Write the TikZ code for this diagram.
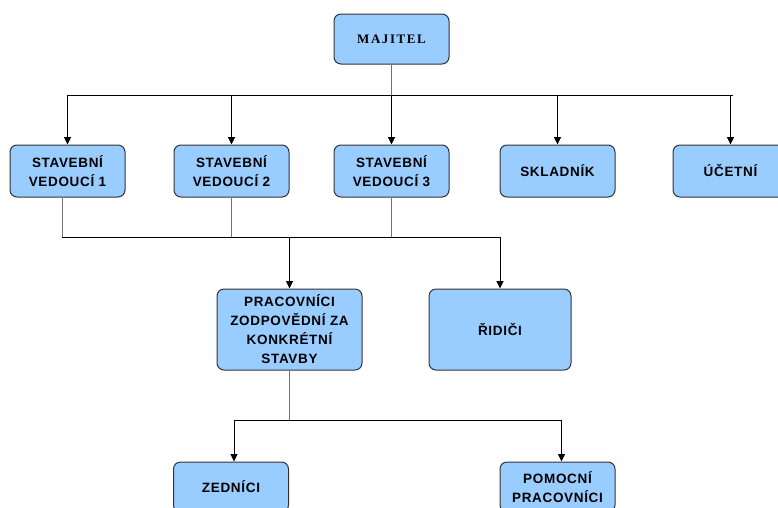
\documentclass[tikz,border=0pt]{standalone}
\usepackage{fontspec}
\setmainfont{Liberation Sans}
\newfontfamily\majfont{Liberation Serif}
\usetikzlibrary{arrows.meta}

\definecolor{boxblue}{HTML}{99CCFF}

\tikzset{
    unit/.style={draw=black!80, fill=boxblue, rounded corners=7pt, line width=1pt,
        align=center, inner sep=0pt, minimum width=115pt, minimum height=52pt,
        font=\bfseries\fontsize{13.5}{19}\selectfont\addfontfeature{LetterSpace=5}},
    link/.style={draw=black!55, line width=1pt},
    bus/.style={draw=black, line width=1pt},
    feed/.style={bus, -{Triangle[width=7pt,length=7.5pt]}}
}

\begin{document}
\begin{tikzpicture}[x=1pt, y=-1pt]
            \useasboundingbox (0,0) rectangle (778,507);
            \clip (0,0) rectangle (778,507);
            % owner
            \node[unit, minimum height=50pt,
                font=\majfont\bfseries\fontsize{13}{15}\selectfont\addfontfeature{LetterSpace=12}]
                (maj) at (391.5,39) {MAJITEL};
            % first level
            \node[unit] (sv1) at (67.5,171) {STAVEBNÍ\\VEDOUCÍ 1};
            \node[unit] (sv2) at (231.5,171) {STAVEBNÍ\\VEDOUCÍ 2};
            \node[unit] (sv3) at (391.5,171) {STAVEBNÍ\\VEDOUCÍ 3};
            \node[unit] (skl) at (557.5,171) {SKLADNÍK};
            \node[unit] (uce) at (730.5,171) {ÚČETNÍ};
            % second level
            \node[unit, minimum width=145pt, minimum height=81pt] (prac) at (289.5,329.5)
                {PRACOVNÍCI\\ZODPOVĚDNÍ ZA\\KONKRÉTNÍ\\STAVBY};
            \node[unit, minimum width=142pt, minimum height=81pt] (rid) at (500,329.5) {ŘIDIČI};
            % third level
            \node[unit, minimum height=50pt] (zed) at (231,487) {ZEDNÍCI};
            \node[unit, minimum height=50pt] (pom) at (557.5,487) {POMOCNÍ\\PRACOVNÍCI};

            \coordinate (busA) at (0,95);
            \coordinate (busB) at (0,237);
            \coordinate (busC) at (0,420);

            \draw[link] (maj.south) -- (maj.south |- busA);
            \draw[bus] (sv1 |- busA) -- ([xshift=2.5pt]uce |- busA);
            \foreach \n in {sv1,sv2,sv3,skl,uce}
                \draw[feed] (\n |- busA) -- (\n.north);

            \draw[link] ([xshift=-5.5pt]sv1.south) -- ([xshift=-5.5pt]sv1.south |- busB);
            \draw[link] (sv2.south) -- (sv2.south |- busB);
            \draw[link] (sv3.south) -- (sv3.south |- busB);
            \draw[bus] ([xshift=-5.5pt]sv1.south |- busB) -- (rid |- busB);
            \draw[feed] (prac |- busB) -- (prac.north);
            \draw[feed] (rid |- busB) -- (rid.north);

            \draw[link] (prac.south) -- (prac.south |- busC);
            \draw[bus] ([xshift=3pt]zed |- busC) -- ([xshift=4pt]pom |- busC);
            \draw[feed] ([xshift=3pt]zed |- busC) -- ([xshift=3pt]zed.north);
            \draw[feed] ([xshift=4pt]pom |- busC) -- ([xshift=4pt]pom.north);
        \end{tikzpicture}
\end{document}
